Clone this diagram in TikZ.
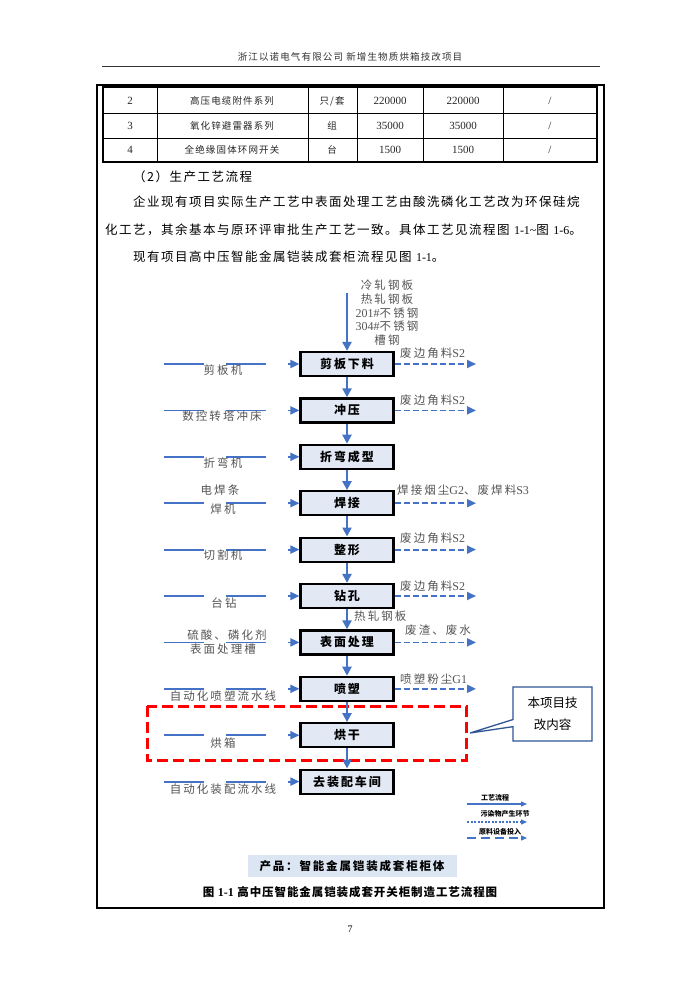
\documentclass[tikz,border=0pt]{standalone}
\usepackage{fontspec}
\setmainfont{Noto Sans CJK SC}
\newfontfamily\tnr{Liberation Serif}
\newfontfamily\fbody{Noto Sans CJK SC}[LetterSpace=12]
\newfontfamily\flab{Noto Sans CJK SC}[LetterSpace=18]
\newfontfamily\fbx{Noto Sans CJK SC}[LetterSpace=16]
\newfontfamily\fcap{Noto Sans CJK SC}[LetterSpace=8]
\newfontfamily\fhead{Noto Sans CJK SC}[LetterSpace=12]
\newcommand{\lat}[1]{{\tnr\fontsize{12}{13}\selectfont #1}}
\usetikzlibrary{arrows.meta,shapes.callouts}
\definecolor{flowblue}{RGB}{68,114,196}
\definecolor{boxfill}{RGB}{226,233,245}
\definecolor{labgray}{RGB}{85,85,85}
\definecolor{calloutblue}{RGB}{47,85,151}
\definecolor{prodfill}{RGB}{220,230,242}
\tikzset{
  stepbox/.style={draw=black, line width=2.2pt, fill=boxfill, minimum width=93pt,
    minimum height=24pt, inner sep=0pt, font=\fbx\bfseries\fontsize{12}{14}\selectfont},
  mainarrow/.style={draw=flowblue, line width=2.4pt, -{Triangle[length=9pt,width=9pt]}},
  inarrow/.style={draw=flowblue, line width=1.8pt, dash pattern=on 40pt off 22pt,
    -{Triangle[length=9pt,width=8pt]}},
  outarrow/.style={draw=flowblue, line width=1.8pt, dash pattern=on 6pt off 3pt,
    -{Triangle[length=9pt,width=8pt]}},
  lab/.style={inner sep=0pt, text=labgray, font=\flab\fontsize{11.5}{13}\selectfont},
  rlab/.style={lab, anchor=west},
  body/.style={inner sep=0pt, anchor=west, font=\fbody\fontsize{12.5}{15}\selectfont},
  cell/.style={inner sep=0pt, text=black!85, font=\fhead\fontsize{9.5}{11}\selectfont},
  num/.style={inner sep=0pt, text=black!85, font=\tnr\fontsize{11}{12}\selectfont},
  leg/.style={inner sep=0pt, font=\bfseries\fontsize{7}{8}\selectfont},
  legline/.style={draw=flowblue, line width=1.3pt, -{Triangle[length=6pt,width=5pt]}}
}
\begin{document}
\begin{tikzpicture}[x=1pt,y=-1pt]
\useasboundingbox (0,0) rectangle (700,1000);
\fill[white] (0,0) rectangle (700,1000);

% header
\node[inner sep=0pt, font=\fhead\fontsize{9.5}{11}\selectfont, text=black!80] (head) at (350,57) {浙江以诺电气有限公司 新增生物质烘箱技改项目};
\draw[line width=0.8pt, black!80] (102,66) -- (600,66);

% page frame
\draw[line width=2pt] (97,85) rectangle (604,908);

% table
\draw[line width=2pt] (103,87) rectangle (597,162);
\draw[line width=0.9pt] (103,113) -- (597,113) (103,138) -- (597,138);
\foreach \cx in {157,308,357,423,503}{\draw[line width=0.9pt] (\cx,87) -- (\cx,162);}
\node[num] (t11) at (130,101) {2};
\node[cell] (t12) at (232,101) {高压电缆附件系列};
\node[cell] (t13) at (332,101) {只/套};
\node[num] (t14) at (390,101) {220000};
\node[num] (t15) at (463,101) {220000};
\node[num] (t16) at (550,101) {/};
\node[num] (t21) at (130,126) {3};
\node[cell] (t22) at (232,126) {氧化锌避雷器系列};
\node[cell] (t23) at (332,126) {组};
\node[num] (t24) at (390,126) {35000};
\node[num] (t25) at (463,126) {35000};
\node[num] (t26) at (550,126) {/};
\node[num] (t31) at (130,150) {4};
\node[cell] (t32) at (232,150) {全绝缘固体环网开关};
\node[cell] (t33) at (332,150) {台};
\node[num] (t34) at (390,150) {1500};
\node[num] (t35) at (463,150) {1500};
\node[num] (t36) at (550,150) {/};

% body text
\node[body] (p0) at (133,177) {（2）生产工艺流程};
\node[body] (p1) at (133,202) {企业现有项目实际生产工艺中表面处理工艺由酸洗磷化工艺改为环保硅烷};
\node[body] (p2) at (105,230) {化工艺，其余基本与原环评审批生产工艺一致。具体工艺见流程图 \lat{1-1\textasciitilde}图 \lat{1-6}。};
\node[body] (p3) at (133,257) {现有项目高中压智能金属铠装成套柜流程见图 \lat{1-1}。};

% red dashed region (behind the flow)
\draw[red, line width=3pt, dash pattern=on 11pt off 5pt] (147,706) rectangle (466,760);

% raw materials
\node[lab] (m1) at (387,285) {冷轧钢板};
\node[lab] (m2) at (387,299) {热轧钢板};
\node[lab] (m3) at (387,313) {\lat{201\#}不锈钢};
\node[lab] (m4) at (387,326) {\lat{304\#}不锈钢};
\node[lab] (m5) at (387,340) {槽钢};

% main boxes
\node[stepbox] (b1) at (347,364) {剪板下料};
\node[stepbox] (b2) at (347,410.4) {冲压};
\node[stepbox] (b3) at (347,456.8) {折弯成型};
\node[stepbox] (b4) at (347,503.2) {焊接};
\node[stepbox] (b5) at (347,549.6) {整形};
\node[stepbox] (b6) at (347,596) {钻孔};
\node[stepbox] (b7) at (347,642.4) {表面处理};
\node[stepbox] (b8) at (347,688.8) {喷塑};
\node[stepbox] (b9) at (347,735.2) {烘干};
\node[stepbox] (b10) at (347,781.6) {去装配车间};

% main flow
\coordinate (topin) at (347,293);
\draw[mainarrow] (topin) -- (b1);
\draw[mainarrow] (b1) -- (b2);
\draw[mainarrow] (b2) -- (b3);
\draw[mainarrow] (b3) -- (b4);
\draw[mainarrow] (b4) -- (b5);
\draw[mainarrow] (b5) -- (b6);
\draw[mainarrow] (b6) -- (b7);
\draw[mainarrow] (b7) -- (b8);
\draw[mainarrow] (b8) -- (b9);
\draw[mainarrow] (b9) -- (b10);

% left inputs
\foreach \n/\yy in {1/364,2/410.4,3/456.8,4/503.2,5/549.6,6/596,7/642.4,8/688.8,9/735.2,10/781.6}{
  \coordinate (l\n) at (164,\yy);
  \draw[inarrow] (l\n) -- (b\n);
}
\node[lab] (e1) at (223,370) {剪板机};
\node[lab] (e2) at (222,416) {数控转塔冲床};
\node[lab] (e3) at (223,463) {折弯机};
\node[lab] (e4a) at (220,490) {电焊条};
\node[lab] (e4b) at (223,509) {焊机};
\node[lab] (e5) at (223,555) {切割机};
\node[lab] (e6) at (224,603) {台钻};
\node[lab] (e7a) at (227,635) {硫酸、磷化剂};
\node[lab] (e7b) at (223,649) {表面处理槽};
\node[lab] (e8) at (223,696) {自动化喷塑流水线};
\node[lab] (e9) at (223,743) {烘箱};
\node[lab] (e10) at (223,789) {自动化装配流水线};

% right outputs
\foreach \n/\yy in {1/364,2/410.4,4/503.2,5/549.6,6/596,7/642.4,8/688.8}{
  \coordinate (r\n) at (476,\yy);
  \draw[outarrow] (b\n) -- (r\n);
}
\node[rlab] (o1) at (400,353) {废边角料\lat{S2}};
\node[rlab] (o2) at (400,400) {废边角料\lat{S2}};
\node[rlab] (o4) at (397,490) {焊接烟尘\lat{G2}、废焊料\lat{S3}};
\node[rlab] (o5) at (400,538) {废边角料\lat{S2}};
\node[rlab] (o6) at (400,586) {废边角料\lat{S2}};
\node[rlab] (o7) at (405,630) {废渣、废水};
\node[rlab] (o8) at (400,679) {喷塑粉尘\lat{G1}};
\node[rlab] (hr) at (354,616) {热轧钢板};

% callout
\node[rectangle callout, draw=calloutblue, line width=1.3pt, fill=white,
  minimum width=79pt, minimum height=54pt, inner sep=0pt, align=center,
  callout absolute pointer={(470,733)}, font=\fontsize{12.5}{22}\selectfont] (call) at (552.5,714) {本项目技\\改内容};

% legend
\node[leg] (lg1) at (495,798) {工艺流程};
\node[leg] (lg2) at (505,814) {污染物产生环节};
\node[leg] (lg3) at (500,832) {原料设备投入};
\coordinate (la1) at (467,804); \coordinate (lb1) at (527,804);
\coordinate (la2) at (467,822); \coordinate (lb2) at (527,822);
\coordinate (la3) at (467,838); \coordinate (lb3) at (527,838);
\draw[legline] (la1) -- (lb1);
\draw[legline, dash pattern=on 2pt off 1.5pt] (la2) -- (lb2);
\draw[legline, dash pattern=on 9pt off 5pt] (la3) -- (lb3);

% product & caption
\node[fill=prodfill, minimum width=209pt, minimum height=22pt, inner sep=0pt,
  font=\fbx\bfseries\fontsize{11.5}{13}\selectfont] (prod) at (352,866) {产品：智能金属铠装成套柜柜体};
\node[inner sep=0pt, font=\fcap\bfseries\fontsize{11.5}{13}\selectfont] (cap) at (350,892) {图 \lat{\bfseries 1-1} 高中压智能金属铠装成套开关柜制造工艺流程图};

\node[inner sep=0pt, font=\tnr\fontsize{10}{12}\selectfont] (pg) at (350,929) {7};
\end{tikzpicture}
\end{document}
